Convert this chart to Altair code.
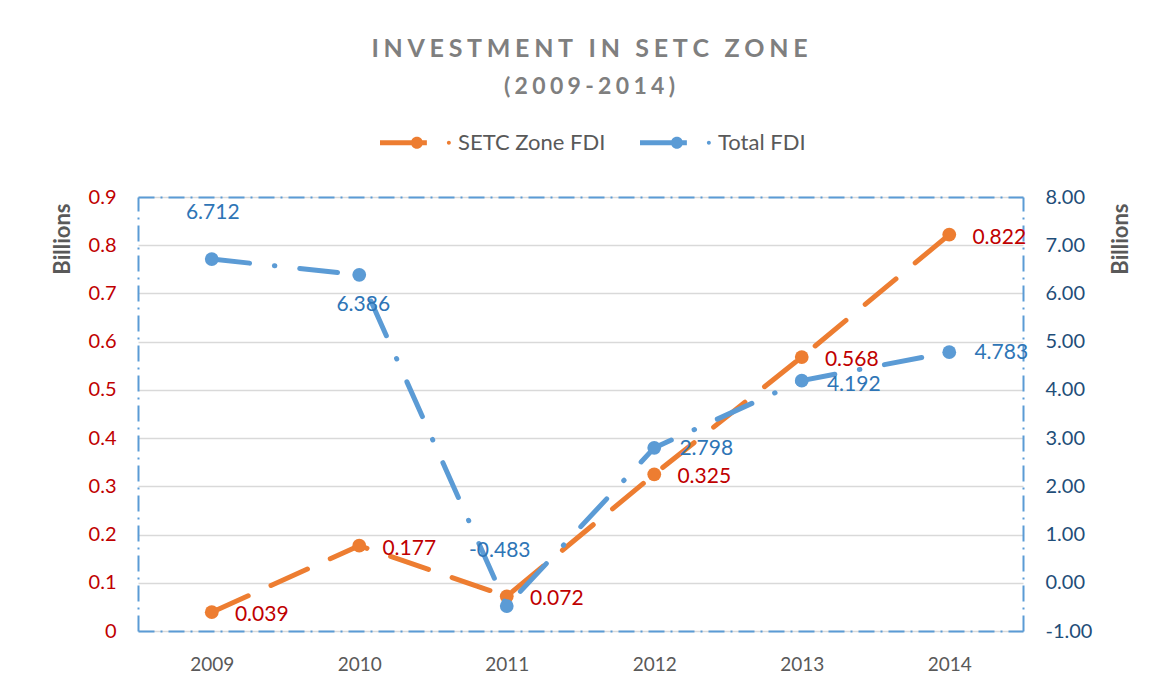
import altair as alt
import pandas as pd

# ---------------- data ----------------
years = ["2009", "2010", "2011", "2012", "2013", "2014"]
setc_fdi = [0.039, 0.177, 0.072, 0.325, 0.568, 0.822]
total_fdi = [6.712, 6.386, -0.483, 2.798, 4.192, 4.783]
series_names = ["SETC Zone FDI", "Total FDI"]
left_ticks = [0, 0.1, 0.2, 0.3, 0.4, 0.5, 0.6, 0.7, 0.8, 0.9]
right_ticks = [-1, 0, 1, 2, 3, 4, 5, 6, 7, 8]

rows = []
for y, v in zip(years, setc_fdi):
    rows.append({"year": y, "value": v, "series": series_names[0]})
for y, v in zip(years, total_fdi):
    rows.append({"year": y, "value": v, "series": series_names[1]})
df = pd.DataFrame(rows)

# ---------------- styles ----------------
ORANGE = "#ED7D31"
BLUE = "#5B9BD5"
RED = "#C00000"
BLUE_TXT = "#2E75B6"
DARK_BLUE = "#1F4E79"
GRAY = "#595959"
FONT = "Lato"
BORDER_DASH = [16, 6, 2, 6]
LBL = 21

SP = "\u2009\u200a"
title_text = SP.join("INVESTMENT IN SETC ZONE")
subtitle_text = SP.join("(2009-2014)")

legend_path = (
    "M-1,-0.07 L0.32,-0.07 L0.32,0.07 L-1,0.07 Z "
    "M-0.13,0 A0.17,0.17 0 1,1 0.21,0 A0.17,0.17 0 1,1 -0.13,0 Z "
    "M0.884,0 A0.056,0.056 0 1,1 0.996,0 A0.056,0.056 0 1,1 0.884,0 Z"
)

MINUS_FIX = "replace(format(datum.value, '{f}'), '\u2212', '-')"

base = alt.Chart(df).transform_calculate(
    label=MINUS_FIX.format(f=".3f")
)

x_enc = alt.X(
    "year:O",
    scale=alt.Scale(type="point", padding=0.5),
    axis=alt.Axis(
        title=None, labelAngle=0, labelFontSize=19, labelColor=GRAY,
        labelPadding=24, ticks=False, domain=True, domainColor=BLUE,
        domainWidth=2, domainDash=BORDER_DASH, grid=False, labelFont=FONT,
    ),
)

x_top = alt.X(
    "year:O",
    scale=alt.Scale(type="point", padding=0.5),
    axis=alt.Axis(
        orient="top", title=None, labels=False, ticks=False, domain=True,
        domainColor=BLUE, domainWidth=2, domainDash=BORDER_DASH, grid=False,
    ),
)

y_left = alt.Y(
    "value:Q",
    scale=alt.Scale(domain=[0, 0.9], nice=False, zero=False),
    axis=alt.Axis(
        values=left_ticks, format=".1~f", labelColor=RED, labelFontSize=20,
        labelPadding=22, ticks=False, domain=True, domainColor=BLUE,
        domainWidth=2, domainDash=BORDER_DASH, grid=True,
        gridColor="#D9D9D9", gridWidth=1.5, title="Billions",
        titleAngle=-90, titleAlign="right", titleBaseline="middle",
        titleX=-76, titleY=6, titleFontSize=22, titleColor=GRAY,
        titleFontWeight="bold", labelFont=FONT, titleFont=FONT,
    ),
)

y_right = alt.Y(
    "value:Q",
    scale=alt.Scale(domain=[-1, 8], nice=False, zero=False),
    axis=alt.Axis(
        orient="right", values=right_ticks,
        labelExpr=MINUS_FIX.format(f=".2f"), labelColor=DARK_BLUE,
        labelFontSize=20, labelPadding=22, ticks=False, domain=True,
        domainColor=BLUE, domainWidth=2, domainDash=BORDER_DASH, grid=False,
        title="Billions", titleAngle=-90, titleAlign="right",
        titleBaseline="middle", titleX=97, titleY=6, titleFontSize=22,
        titleColor=GRAY, titleFontWeight="bold", labelFont=FONT, titleFont=FONT,
    ),
)

color_enc = alt.Color(
    "series:N",
    scale=alt.Scale(domain=series_names, range=[ORANGE, BLUE]),
    legend=alt.Legend(
        title=None, orient="none", direction="horizontal",
        legendX=242, legendY=-90, symbolType=legend_path, symbolSize=5041,
        symbolStrokeWidth=0, symbolOpacity=1, labelFontSize=22,
        labelColor=GRAY, labelFont=FONT, labelOffset=7, columnPadding=34,
        padding=0,
    ),
)

# ---- SETC (left axis) ----
setc = base.transform_filter(alt.datum.series == series_names[0])
setc_line = setc.mark_line(
    color=ORANGE, strokeWidth=5, strokeDash=[40, 25], strokeCap="round"
).encode(x=x_enc, y=y_left)
setc_pts = setc.mark_circle(size=190, opacity=1).encode(
    x=x_enc, y=y_left, color=color_enc
)
setc_txt = setc.mark_text(
    dx=50, dy=3, color=RED, fontSize=LBL, font=FONT
).encode(x=x_enc, y=y_left, text="label:N")
left_layer = alt.layer(setc_line, setc_pts, setc_txt)

# ---- Total (right axis) ----
tot = base.transform_filter(alt.datum.series == series_names[1])
tot_line = tot.mark_line(
    color=BLUE, strokeWidth=5, strokeDash=[38, 25, 0.5, 25], strokeCap="round"
).encode(x=x_top, y=y_right)
tot_pts = tot.mark_circle(size=190, opacity=1).encode(
    x=x_top, y=y_right, color=color_enc
)
txt_enc = dict(x=x_top, y=y_right, text="label:N")
tot_txt_above = tot.transform_filter(
    alt.FieldOneOfPredicate(field="year", oneOf=["2009"])
).mark_text(dx=1, dy=-46, color=BLUE_TXT, fontSize=LBL, font=FONT).encode(**txt_enc)
tot_txt_below = tot.transform_filter(
    alt.FieldOneOfPredicate(field="year", oneOf=["2010"])
).mark_text(dx=4, dy=30, color=BLUE_TXT, fontSize=LBL, font=FONT).encode(**txt_enc)
tot_txt_above2 = tot.transform_filter(
    alt.FieldOneOfPredicate(field="year", oneOf=["2011"])
).mark_text(dx=-7, dy=-55, color=BLUE_TXT, fontSize=LBL, font=FONT).encode(**txt_enc)
tot_txt_right = tot.transform_filter(
    alt.FieldOneOfPredicate(field="year", oneOf=["2012", "2014"])
).mark_text(dx=52, dy=1, color=BLUE_TXT, fontSize=LBL, font=FONT).encode(**txt_enc)
tot_txt_right2 = tot.transform_filter(
    alt.FieldOneOfPredicate(field="year", oneOf=["2013"])
).mark_text(dx=52, dy=4, color=BLUE_TXT, fontSize=LBL, font=FONT).encode(**txt_enc)
right_layer = alt.layer(
    tot_line, tot_pts, tot_txt_above, tot_txt_below, tot_txt_above2,
    tot_txt_right, tot_txt_right2,
)

chart = (
    alt.layer(left_layer, right_layer)
    .resolve_scale(y="independent")
    .resolve_axis(x="independent", y="independent")
    .properties(
        width=885,
        height=434,
        autosize="none",
        background="white",
        padding={"left": 130, "top": 189, "right": 133, "bottom": 50},
        title=alt.Title(
            text=title_text,
            subtitle=subtitle_text,
            fontSize=25,
            subtitleFontSize=23,
            font=FONT,
            subtitleFont=FONT,
            fontWeight="bold",
            subtitleFontWeight="bold",
            color="#7F7F7F",
            subtitleColor="#7F7F7F",
            anchor="middle",
            dx=9,
            offset=8,
            subtitlePadding=14,
        ),
    )
    .configure_view(stroke=None)
)

chart.save("out.html", embed_options={"renderer": "svg", "actions": False})
